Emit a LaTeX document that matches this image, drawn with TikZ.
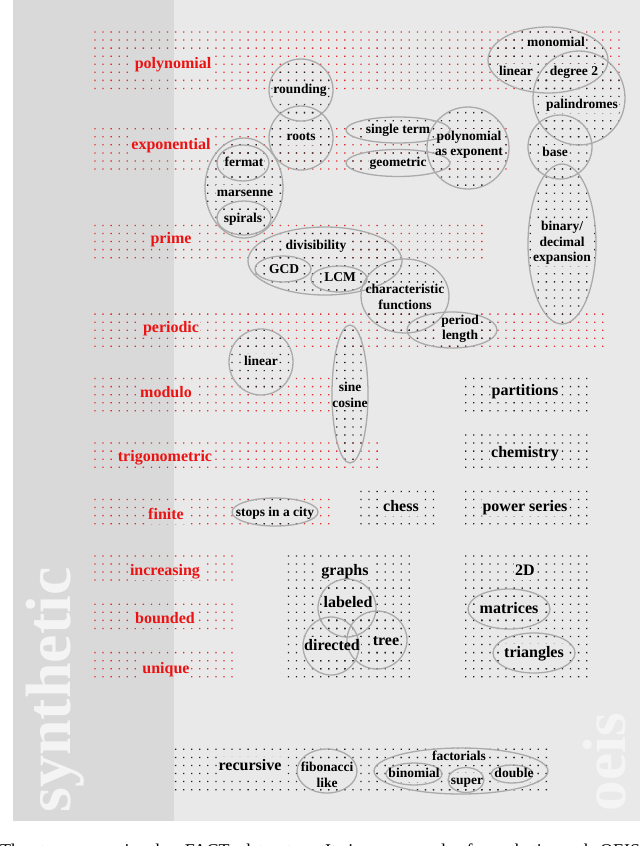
\documentclass[tikz,border=0pt]{standalone}
\usepackage{fontspec}
\setmainfont{Liberation Serif}
\definecolor{bgL}{RGB}{217,217,217}
\definecolor{bgR}{RGB}{233,233,233}
\definecolor{ringc}{RGB}{170,170,170}
\definecolor{redlbl}{RGB}{236,18,18}
\definecolor{reddot}{RGB}{226,45,45}
\definecolor{blkdot}{RGB}{35,35,35}
\definecolor{bigtxt}{RGB}{244,244,244}
\tikzset{
  cat/.style={font=\fontsize{16}{17}\selectfont\bfseries, text=redlbl, inner sep=1pt, text height=11.5pt, text depth=3.5pt},
  big/.style={font=\fontsize{16}{17}\selectfont\bfseries, text=black, inner sep=1pt, text height=11.5pt, text depth=3.5pt},
  sml/.style={font=\fontsize{13.5}{15.5}\selectfont\bfseries, text=black, inner sep=1pt, text height=9.7pt, text depth=3pt},
  smlm/.style={font=\fontsize{13.5}{15.5}\selectfont\bfseries, text=black, inner sep=1pt, align=center},
  ring/.style={draw=ringc, line width=1.3pt},
  huge/.style={font=\fontsize{64}{66}\selectfont\bfseries, text=bigtxt, inner sep=0pt, rotate=90, anchor=base},
}
% dot grid: x = 95 + 8.06 i, y = 32 + 8.06 j
\newcommand\dotrect[5]{%
  \foreach \j in {#4,...,#5}{%
    \fill[#1] \foreach \i in {#2,...,#3}{ ({95+8.06*\i-0.65},{32+8.06*\j-0.65}) rectangle ++(1.3,1.3) };
  }%
}
\newcommand\ringdots[4]{%
  \begin{scope}
    \clip (#1,#2) ellipse [x radius=#3, y radius=#4];
    \pgfmathtruncatemacro\ia{floor((#1-#3-95)/8.06)}
    \pgfmathtruncatemacro\ib{ceil((#1+#3-95)/8.06)}
    \pgfmathtruncatemacro\ja{floor((#2-#4-32)/8.06)}
    \pgfmathtruncatemacro\jb{ceil((#2+#4-32)/8.06)}
    \dotrect{blkdot}{\ia}{\ib}{\ja}{\jb}
  \end{scope}
}
\newcommand\allrings{%
  \rg{301}{90}{32}{31}
  \rg{301}{138}{32}{32}
  \rg{244}{188}{39}{50}
  \rg{243}{163}{26}{18}
  \rg{244}{218}{27}{17}
  \rg{398}{130}{52}{13}
  \rg{398}{163}{52}{13.5}
  \rg{468}{148}{41}{41}
  \rg{548}{60}{60}{33}
  \rg{579}{98}{46}{47}
  \rg{560}{147}{32}{32}
  \rg{562}{244}{34}{80}
  \rg{325}{261}{77}{34}
  \rg{283}{269}{28}{13}
  \rg{339}{279}{28}{13}
  \rg{405}{296}{44}{37}
  \rg{452}{330}{45}{18}
  \rg{261}{362}{32}{33}
  \rg{350}{394}{18}{69}
  \rg{275}{512}{43}{14}
  \rg{347}{608}{29}{29}
  \rg{331}{646}{28}{29}
  \rg{377}{640}{30}{29}
  \rg{509}{609}{41}{20}
  \rg{534}{653}{41}{20}
  \rg{327}{771}{30}{22}
  \rg{461}{771}{87}{23}
  \rg{414}{774}{28}{11}
  \rg{466}{780}{18}{12.5}
  \rg{512}{774}{21}{9}
}
\newcommand\alllabels{%
  \lbl{polynomial}{173,64}{cat}{polynomial}
  \lbl{exponential}{171,145}{cat}{exponential}
  \lbl{prime}{171,239}{cat}{prime}
  \lbl{periodic}{171,328}{cat}{periodic}
  \lbl{modulo}{166,393}{cat}{modulo}
  \lbl{trig}{165,457}{cat}{trigonometric}
  \lbl{finite}{166,515}{cat}{finite}
  \lbl{increasing}{165,571}{cat}{increasing}
  \lbl{bounded}{165,619}{cat}{bounded}
  \lbl{unique}{166,669}{cat}{unique}
  \lbl{rounding}{300,90}{sml}{rounding}
  \lbl{roots}{301,137}{sml}{roots}
  \lbl{fermat}{244,163}{sml}{fermat}
  \lbl{marsenne}{245,193}{sml}{marsenne}
  \lbl{spirals}{243,219}{sml}{spirals}
  \lbl{single}{398,130}{sml}{single term}
  \lbl{geometric}{398,163}{sml}{geometric}
  \lbl{polyexp}{469,145}{smlm}{polynomial\\as exponent}
  \lbl{monomial}{556,43}{sml}{monomial}
  \lbl{linearA}{516,72}{sml}{linear}
  \lbl{degree}{574,72}{sml}{degree 2}
  \lbl{palin}{582,105}{sml}{palindromes}
  \lbl{base}{555,153}{sml}{base}
  \lbl{binary}{562,243}{smlm}{binary/\\decimal\\expansion}
  \lbl{divis}{316,246}{sml}{divisibility}
  \lbl{gcd}{284,270}{sml}{GCD}
  \lbl{lcm}{340,278}{sml}{LCM}
  \lbl{charf}{405,297}{smlm}{characteristic\\functions}
  \lbl{period}{460,329}{smlm}{period\\length}
  \lbl{linearB}{261,362}{sml}{linear}
  \lbl{sine}{350,395}{smlm}{sine\\cosine}
  \lbl{partitions}{525,391}{big}{partitions}
  \lbl{chemistry}{525,453}{big}{chemistry}
  \lbl{stops}{275,513}{sml}{stops in a city}
  \lbl{chess}{401,507}{big}{chess}
  \lbl{power}{525,507}{big}{power series}
  \lbl{graphs}{345,571}{big}{graphs}
  \lbl{twoD}{525,571}{big}{2D}
  \lbl{labeled}{348,603}{big}{labeled}
  \lbl{directed}{332,646}{big}{directed}
  \lbl{tree}{386,641}{big}{tree}
  \lbl{matrices}{509,609}{big}{matrices}
  \lbl{triangles}{534,653}{big}{triangles}
  \lbl{recursive}{250,766}{big}{recursive}
  \lbl{fib}{327,775}{smlm}{fibonacci\\like}
  \lbl{factorials}{459,757}{sml}{factorials}
  \lbl{binomial}{414,774}{sml}{binomial}
  \lbl{super}{467,781}{sml}{super}
  \lbl{double}{514,774}{sml}{double}
}
\begin{document}
\begin{tikzpicture}[x=1pt, y=-1pt]
  \useasboundingbox (0,0) rectangle (640,846);
  \begin{scope}
  \clip (0,0) rectangle (640,846);
  \fill[white] (0,0) rectangle (640,846);
  \fill[bgL] (13,0) rectangle (174,821);
  \fill[bgR] (174,0) rectangle (640,821);
  % big vertical words
  \node[huge] (synth) at (70,690) {synthetic};
  \node[huge, font=\fontsize{61}{63}\selectfont\bfseries] (oeis) at (625,762) {oeis};
  % red category dot bands
  \dotrect{reddot}{0}{65}{0}{7}
  \dotrect{reddot}{0}{51}{12}{17}
  \dotrect{reddot}{0}{48}{24}{28}
  \dotrect{reddot}{0}{63}{35}{39}
  \dotrect{reddot}{0}{29}{43}{47}
  \dotrect{reddot}{0}{35}{51}{54}
  \dotrect{reddot}{0}{29}{58}{61}
  \dotrect{reddot}{0}{17}{65}{68}
  \dotrect{reddot}{0}{17}{71}{74}
  \dotrect{reddot}{0}{17}{77}{80}
  % black dot boxes
  \dotrect{blkdot}{46}{61}{43}{47}
  \dotrect{blkdot}{46}{61}{50}{54}
  \dotrect{blkdot}{46}{61}{57}{61}
  \dotrect{blkdot}{33}{42}{57}{61}
  \dotrect{blkdot}{24}{39}{65}{80}
  \dotrect{blkdot}{46}{61}{65}{80}
  \dotrect{blkdot}{10}{56}{89}{94}
  % dots inside the rings
  \def\rg#1#2#3#4{\ringdots{#1}{#2}{#3}{#4}}
  \allrings
  % label nodes (invisible) and covers behind them
  \def\lbl#1#2#3#4{%
    \node[#3, text opacity=0] (#1) at (#2) {#4};
    \begin{scope}
      \clip (#1.south west) rectangle (#1.north east);
      \fill[bgL] (13,0) rectangle (174,821);
      \fill[bgR] (174,0) rectangle (640,821);
    \end{scope}}
  \alllabels
  % ring outlines
  \def\rg#1#2#3#4{\draw[ring] (#1,#2) ellipse [x radius=#3, y radius=#4];}
  \allrings
  % visible texts
  \def\lbl#1#2#3#4{\node[#3] (#1-t) at (#1) {#4};}
  \alllabels
  % cut-off caption
  \node[anchor=base west, inner sep=0pt, font=\fontsize{18}{20}\selectfont] (caption) at (0,856)
    {\makebox[640pt][s]{The taxonomy in the FACT dataset. It is composed of synthetic and OEIS}};
  \end{scope}
\end{tikzpicture}
\end{document}
